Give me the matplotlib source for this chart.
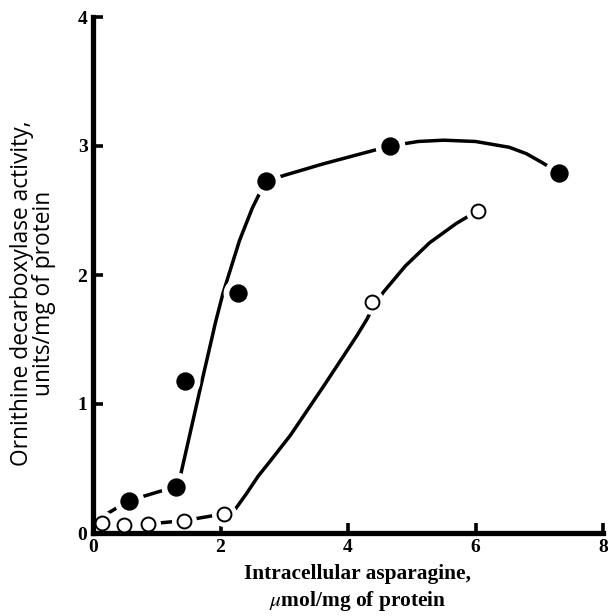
import matplotlib
matplotlib.use('Agg')
import matplotlib.pyplot as plt

plt.rcParams['mathtext.fontset'] = 'stix'

# measured points
filled_x = [0.56, 1.30, 1.45, 2.27, 2.71, 4.66, 7.31]
filled_y = [0.25, 0.36, 1.18, 1.86, 2.73, 3.00, 2.79]
open_x = [0.14, 0.48, 0.87, 1.43, 2.05, 4.38, 6.04]
open_y = [0.078, 0.06, 0.07, 0.096, 0.148, 1.79, 2.50]

# hand-drawn curves through the points
filled_curve_x = [0.19, 0.56, 1.30, 1.37, 1.71, 1.86, 1.92, 2.04, 2.30,
                  2.50, 2.63, 2.71, 3.60, 4.66, 5.10, 5.50, 6.00, 6.53, 6.80, 7.05, 7.31]
filled_curve_y = [0.14, 0.25, 0.36, 0.44, 1.18, 1.50, 1.63, 1.86, 2.27,
                  2.52, 2.65, 2.73, 2.86, 3.00, 3.035, 3.045, 3.035, 2.99, 2.94, 2.87, 2.79]
open_curve_x = [0.14, 0.48, 0.87, 1.43, 2.05, 2.24, 2.40, 2.59, 2.80, 3.10, 3.62,
                4.14, 4.30, 4.38, 4.56, 4.90, 5.28, 5.70, 6.04]
open_curve_y = [0.078, 0.06, 0.07, 0.096, 0.148, 0.19, 0.30, 0.44, 0.57, 0.76, 1.14,
                1.53, 1.66, 1.74, 1.87, 2.07, 2.25, 2.40, 2.50]

xticks = [0, 2, 4, 6, 8]
yticks = [0, 1, 2, 3, 4]

fig = plt.figure(figsize=(6.08, 6.16), dpi=100)
ax = fig.add_axes([93 / 608, 83 / 616, 510 / 608, 516 / 616])

ax.plot(filled_curve_x, filled_curve_y, color='black', lw=2.5, zorder=2, clip_on=False,
        solid_joinstyle='round')
ax.plot(open_curve_x, open_curve_y, color='black', lw=2.5, zorder=2, clip_on=False,
        solid_joinstyle='round')

# white halos leave the little gaps round each marker
ax.plot(filled_x, filled_y, 'o', color='white', ms=20.5, zorder=2.2, clip_on=False)
ax.plot(open_x, open_y, 'o', color='white', ms=17, zorder=2.2, clip_on=False)

ax.plot(filled_x, filled_y, 'o', color='black', ms=12.2, zorder=3, clip_on=False)
ax.plot(open_x, open_y, 'o', mfc='white', mec='black', mew=1.4, ms=10, zorder=3, clip_on=False)

ax.set_xlim(0, 8)
ax.set_ylim(0, 4)
ax.set_xticks(xticks)
ax.set_yticks(yticks)
for s in ['top', 'right']:
    ax.spines[s].set_visible(False)
for s in ['left', 'bottom']:
    ax.spines[s].set_linewidth(3.8)
    ax.spines[s].set_capstyle('projecting')
ax.tick_params(direction='in', length=7, width=2.6, pad=4)
for lab in ax.get_xticklabels() + ax.get_yticklabels():
    lab.set_family('Liberation Serif')
    lab.set_fontsize(14)
    lab.set_fontweight('bold')

fig.text(358 / 608, 1 - 574 / 616, 'Intracellular asparagine,', ha='center', va='center',
         family='Liberation Serif', fontweight='bold', fontsize=15.4)
fig.text(358 / 608, 1 - 601 / 616, r'$\mu$mol/mg of protein', ha='center', va='center',
         family='Liberation Serif', fontweight='bold', fontsize=15.4)

fig.text(33 / 608, 1 - 293 / 616, 'Ornithine decarboxylase activity,\nunits/mg of protein',
         ha='center', va='center', rotation=90, family='Open Sans', fontsize=16.4,
         linespacing=0.92)

fig.savefig('out.png', dpi=100)
